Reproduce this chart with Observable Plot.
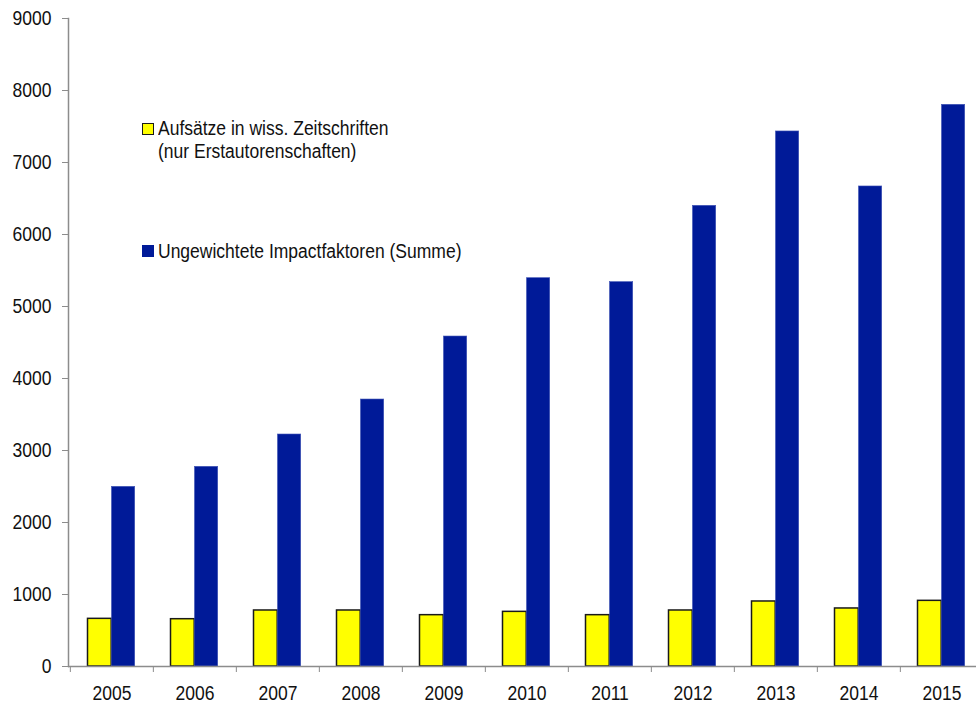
<!DOCTYPE html>
<html>
<head>
<meta charset="utf-8">
<script src="https://cdn.jsdelivr.net/npm/d3@7"></script>
<script src="https://cdn.jsdelivr.net/npm/@observablehq/plot@0.6"></script>
<style>
  html, body { margin: 0; padding: 0; background: #fff; }
  #wrap { position: relative; width: 976px; height: 705px; overflow: hidden;
          font-family: "Liberation Sans", Arial, sans-serif; color: #111; }
  .legend { position: absolute; font-size: 20px; line-height: 23px; transform: scaleX(0.875); transform-origin: left top; }
  .sw { position: absolute; width: 12px; height: 12px; box-sizing: border-box; }
</style>
</head>
<body>
<div id="wrap"></div>
<script>
const years = ["2005","2006","2007","2008","2009","2010","2011","2012","2013","2014","2015"];
const articles = [662, 657, 778, 778, 713, 759, 713, 778, 903, 806, 912];
const impact = [2495, 2773, 3222, 3708, 4583, 5393, 5338, 6398, 7431, 6667, 7801];
const yTicks = [0, 1000, 2000, 3000, 4000, 5000, 6000, 7000, 8000, 9000];
const seriesNames = ["Aufsätze in wiss. Zeitschriften\n(nur Erstautorenschaften)", "Ungewichtete Impactfaktoren (Summe)"];
const seriesColors = ["#ffff00", "#001a98"];

const data = years.map((y, i) => ({year: y, articles: articles[i], impact: impact[i]}));
const x0 = 68.5, bandW = 83.3;

const chart = Plot.plot({
  width: 976,
  height: 705,
  marginLeft: 68,
  marginRight: 0,
  marginTop: 18,
  marginBottom: 39,
  style: {fontFamily: '"Liberation Sans", Arial, sans-serif', fontSize: "20px", color: "#111", background: "#fff"},
  x: {domain: years, range: [x0, x0 + bandW * years.length], padding: 0},
  y: {domain: [0, 9000]},
  marks: [
    Plot.barY(data, {x: "year", y: "articles", fill: seriesColors[0], stroke: "#1a1a1a", strokeWidth: 1.5, insetLeft: 17.5, insetRight: bandW - 41.5}),
    Plot.barY(data, {x: "year", y: "impact", fill: seriesColors[1], stroke: "#3d52b5", strokeWidth: 0.6, insetLeft: 41.5, insetRight: bandW - 65}),
    Plot.frame({anchor: "left", stroke: "#8c8c8c", strokeWidth: 1.5}),
    Plot.ruleY([0], {stroke: "#8c8c8c", strokeWidth: 1.5}),
    Plot.axisY({ticks: yTicks, tickSize: 6, tickPadding: 11, tickFormat: d => String(d), stroke: "#8c8c8c", label: null}),
    Plot.axisX({tickSize: 0, tickPadding: 19, label: null}),
    Plot.axisX({tickSize: 6, tickFormat: () => "", dx: -bandW / 2, stroke: "#8c8c8c", label: null})
  ]
});

const wrap = document.getElementById("wrap");
wrap.appendChild(chart);

// condense axis label glyphs to match the narrow face of the original
d3.select(chart).selectAll("[aria-label='y-axis tick label'] text, [aria-label='x-axis tick label'] text")
  .each(function() {
    const len = this.getComputedTextLength();
    if (len > 0) {
      this.setAttribute("textLength", (len * 0.875).toFixed(2));
      this.setAttribute("lengthAdjust", "spacingAndGlyphs");
    }
  });

function addLegend(i, swTop, txtTop) {
  const sw = document.createElement("div");
  sw.className = "sw";
  sw.style.left = "142px";
  sw.style.top = swTop + "px";
  sw.style.background = seriesColors[i];
  if (i === 0) sw.style.border = "1.5px solid #1a1a1a";
  wrap.appendChild(sw);
  const t = document.createElement("div");
  t.className = "legend";
  t.style.left = "158px";
  t.style.top = txtTop + "px";
  t.style.whiteSpace = "pre";
  t.textContent = seriesNames[i];
  wrap.appendChild(t);
}
addLegend(0, 123, 117);
addLegend(1, 245, 240);
</script>
</body>
</html>
